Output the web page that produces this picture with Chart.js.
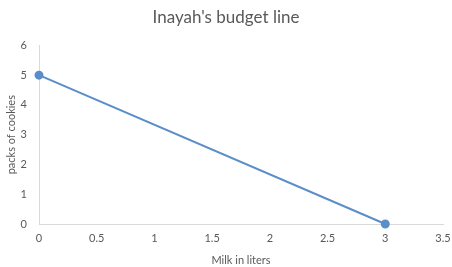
<!DOCTYPE html>
<html><head><meta charset="utf-8">
<script src="https://cdn.jsdelivr.net/npm/chart.js@4/dist/chart.umd.min.js"></script>
<style>html,body{margin:0;padding:0;background:#fff}#wrap{width:452px;height:267px}</style>
</head><body><div id="wrap"><canvas id="c" width="452" height="267"></canvas></div>
<script>
const milkLiters = [0, 3];
const cookiePacks = [5, 0];
const xTicks = [0, 0.5, 1, 1.5, 2, 2.5, 3, 3.5];
const yTicks = [0, 1, 2, 3, 4, 5, 6];
const points = milkLiters.map((x, i) => ({x: x, y: cookiePacks[i]}));
const font = "Lato, 'Open Sans', sans-serif";
new Chart(document.getElementById('c'), {
  type: 'scatter',
  data: { datasets: [{ data: points, showLine: true, clip: false, borderColor: '#5b8ec9', backgroundColor: '#5b8ec9', borderWidth: 2, pointRadius: 3.5, pointHoverRadius: 3.5 }] },
  options: {
    responsive: false, animation: false, devicePixelRatio: 1,
    layout: { padding: { left: 0, right: 0, top: 0, bottom: 0 } },
    plugins: {
      legend: { display: false }, tooltip: { enabled: false },
      title: { display: true, text: "Inayah's budget line", color: '#595959', font: { family: font, size: 17, weight: 'normal' }, padding: { top: 7, bottom: 18 } }
    },
    scales: {
      x: {
        type: 'linear', min: 0, max: 3.5,
        afterBuildTicks: s => { s.ticks = xTicks.map(v => ({value: v})); },
        afterFit: s => { s.height = 43; s.paddingRight = 9; s.paddingLeft = 0; },
        grid: { display: false, drawTicks: false },
        border: { display: true, color: '#d9d9d9', width: 1 },
        ticks: { color: '#595959', font: { family: font, size: 11 }, padding: 8, callback: v => String(v) },
        title: { display: true, text: 'Milk in liters', color: '#595959', font: { family: font, size: 11 }, padding: { top: 6, bottom: 0 } }
      },
      y: {
        type: 'linear', min: 0, max: 6,
        afterBuildTicks: s => { s.ticks = yTicks.map(v => ({value: v})); },
        afterFit: s => { s.width = 39; },
        grid: { display: false, drawTicks: false },
        border: { display: true, color: '#d9d9d9', width: 1 },
        ticks: { color: '#595959', font: { family: font, size: 11 }, padding: 12, callback: v => String(v) },
        title: { display: true, text: 'packs of cookies', color: '#595959', font: { family: font, size: 11 }, padding: { top: 5, bottom: 0 } }
      }
    }
  }
});
</script></body></html>
